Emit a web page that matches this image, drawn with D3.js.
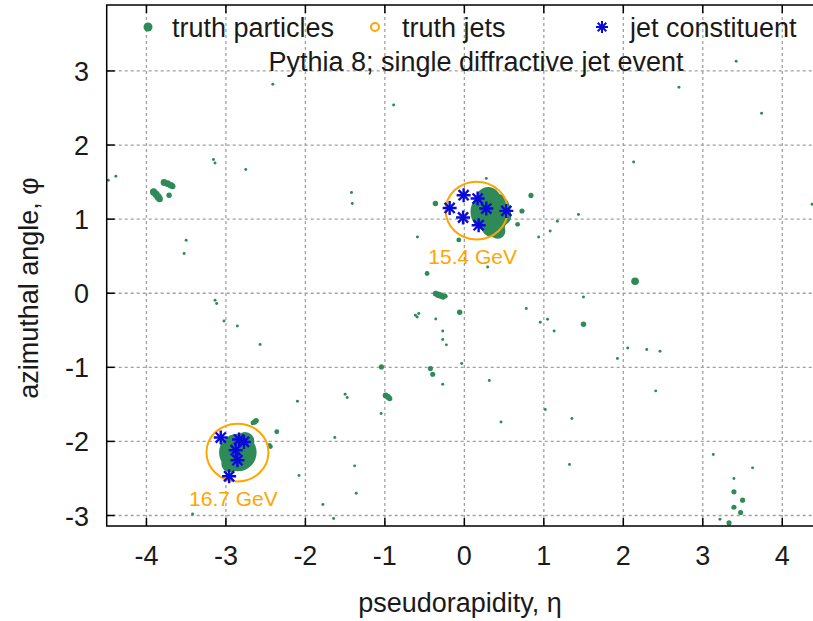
<!DOCTYPE html>
<html>
<head>
<meta charset="utf-8">
<script src="https://cdn.jsdelivr.net/npm/d3@7"></script>
<style>
  body { margin: 0; background: #fff; }
  svg { display: block; font-family: "Liberation Sans", Arial, sans-serif; }
</style>
</head>
<body>
<div id="chart"></div>
<script>
// eta-phi display of one Pythia 8 single diffractive jet event

const etaTicks = [-4, -3, -2, -1, 0, 1, 2, 3, 4];
const phiTicks = [-3, -2, -1, 0, 1, 2, 3];

// truth particles: eta, phi, pT (GeV)
const partEta = [
  0.33, 0.30, 0.36, 0.42, 0.22, 0.46,
  -2.85, -2.76, -2.95, -2.80,
  -3.91, -3.88, -3.853, -3.835, -3.778, -3.735, -3.693, -3.672, -3.715,
  -4.48, -4.385, -3.157, -3.137, -2.75, -3.5, -3.526, -3.137, -3.116, -3.024, -2.856, -2.57,
  -2.64, -2.62, -2.66, -2.36, -2.44, -2.45, -2.08,
  -0.469, 0.293, -0.36, -0.33, -0.30, -0.27, -0.24,
  -0.059, -0.616, -0.594, -0.574, -0.36, -0.272, -0.272, -0.226, -0.034,
  -0.427, -0.398, -0.272, 0.314, -1.043, -0.99, -0.96, -0.94,
  -1.047, -1.5, -1.474, -2.1, -1.63, 0.779, 0.955, 1.047, 1.13, 0.461, 1.018,
  -0.364, 0.838, 0.725, 0.67, -0.07, 0.276, -0.59, 0.935, 1.08, 1.17,
  1.436, 2.148, 1.499, 1.499, 2.056, 2.295, 2.462, 1.926, 2.408, 1.353, 1.323,
  3.132, 3.626, 3.392, 3.392, 3.501, 3.392, 3.476, 3.216, 3.33, 4.376,
  -2.41, -0.89, 2.13, 2.70, 3.74, 3.42, -1.42, -1.41, -1.38, -1.36, -1.78, -3.42, -1.645
];
const partPhi = [
  1.10, 1.27, 0.92, 0.84, 1.02, 1.05,
  -2.15, -2.0, -2.3, -2.28,
  1.367, 1.336, 1.30, 1.273, 1.494, 1.48, 1.457, 1.444, 1.323,
  1.525, 1.579, 1.804, 1.758, 1.669, 0.715, 0.536, -0.094, -0.139, -0.374, -0.441, -0.693,
  -1.737, -1.72, -1.75, -1.87, -2.07, -2.05, -2.46,
  0.266, 0.355, -0.005, -0.02, -0.03, -0.05, -0.04,
  -0.256, -0.297, -0.32, -0.274, -0.347, -0.509, -0.625, -0.697, -0.949,
  -1.016, -1.093, -1.228, -1.178, -0.994, -1.38, -1.40, -1.42,
  -1.624, -1.363, -1.408, -1.458, -1.948, -0.207, -0.391, -0.351, -0.509, -1.737, -1.57,
  1.21, 1.32, 1.11, 0.93, 0.72, 1.55, 0.76, 0.76, 0.84, 0.97,
  1.062, 0.162, -0.05, -0.418, -0.738, -0.76, -0.783, -0.882, -1.318, -1.691, -2.312,
  -2.177, -2.357, -2.501, -2.681, -2.793, -2.888, -2.96, -3.05, -3.10, 1.2,
  2.82, 2.54, 1.77, 2.78, 2.43, 3.13, 1.36, 1.21, -2.33, -2.70, -2.85, -2.98, -3.04
];
const partPt = [
  55, 20, 20, 8, 12, 15,
  48, 12, 10, 8,
  1.8, 1.8, 1.8, 1.5, 1.6, 1.6, 1.5, 1.2, 1.0,
  0.3, 0.3, 0.3, 0.3, 0.3, 0.3, 0.3, 0.3, 0.3, 0.3, 0.3, 0.3,
  1.0, 1.0, 0.8, 0.8, 0.8, 0.6, 0.3,
  0.8, 0.3, 1.2, 1.4, 1.4, 1.0, 0.8,
  1.0, 0.3, 0.3, 0.3, 0.3, 0.3, 0.3, 0.3, 0.3,
  0.9, 0.9, 0.3, 0.3, 0.9, 1.2, 1.2, 1.0,
  0.3, 0.3, 0.3, 0.3, 0.3, 0.3, 0.3, 0.3, 0.3, 0.3, 0.3,
  1.0, 0.9, 0.9, 0.8, 0.8, 0.3, 0.3, 0.3, 0.3, 0.3,
  0.3, 2.0, 0.3, 1.0, 0.3, 0.3, 0.3, 0.3, 0.3, 0.3, 0.3,
  0.3, 0.3, 0.3, 0.9, 0.9, 0.9, 0.9, 0.3, 0.9, 0.3,
  0.3, 0.3, 0.3, 0.3, 0.3, 0.3, 0.3, 0.3, 0.3, 0.3, 0.3, 0.3, 0.3
];

// truth jets (anti-kt, R = 0.4)
const jetEta = [0.155, -2.855];
const jetPhi = [1.116, -2.15];
const jetPt = [15.4, 16.7];
const jetR = 0.39;

// jet constituents
const constEta = [-0.185, -0.009, 0.167, 0.276, -0.016, 0.18, 0.528,
                  -3.065, -2.835, -2.773, -2.877, -2.855, -2.96];
const constPhi = [1.151, 1.323, 1.278, 1.143, 1.022, 0.918, 1.111,
                  -1.948, -1.975, -2.007, -2.119, -2.254, -2.47];

const W = 813, H = 621;
const pLeft = 106.7, pTop = 5, pBottom = 526, pRight = 822;

const svg = d3.select("#chart").append("svg")
    .attr("width", W)
    .attr("height", H);

const x = d3.scaleLinear().domain([-4.5, 4.5]).range([pLeft, pRight]);
const y = d3.scaleLinear().domain([-Math.PI, 3.89]).range([pBottom, pTop]);
const rScale = d3.scaleSqrt().domain([0, 60]).range([0, 21]);

const green = "#2e8b57", orange = "#ffa500", blue = "#0a0ad8", ink = "#1a1a1a";

svg.append("defs").append("clipPath").attr("id", "plot")
  .append("rect").attr("x", pLeft).attr("y", pTop)
  .attr("width", pRight - pLeft).attr("height", pBottom - pTop);

// grid
const grid = svg.append("g")
    .attr("stroke", "#a0a0a0")
    .attr("stroke-width", 1.3)
    .attr("stroke-dasharray", "3,3");
grid.selectAll(".gx").data(etaTicks).join("line")
    .attr("x1", d => x(d)).attr("x2", d => x(d))
    .attr("y1", pTop).attr("y2", pBottom);
grid.selectAll(".gy").data(phiTicks).join("line")
    .attr("x1", pLeft).attr("x2", pRight)
    .attr("y1", d => y(d)).attr("y2", d => y(d));

const plot = svg.append("g").attr("clip-path", "url(#plot)");

// truth particles
const particles = partEta.map((e, i) => ({ eta: e, phi: partPhi[i], pt: partPt[i] }));
plot.append("g").selectAll("circle")
    .data(particles)
    .join("circle")
    .attr("cx", d => x(d.eta))
    .attr("cy", d => y(d.phi))
    .attr("r", d => Math.max(1.3, rScale(d.pt)))
    .attr("fill", green);

// truth jets
const jets = jetEta.map((e, i) => ({ eta: e, phi: jetPhi[i], pt: jetPt[i] }));
plot.append("g").selectAll("ellipse")
    .data(jets)
    .join("ellipse")
    .attr("cx", d => x(d.eta))
    .attr("cy", d => y(d.phi))
    .attr("rx", x(jetR) - x(0))
    .attr("ry", y(0) - y(jetR))
    .attr("fill", "none")
    .attr("stroke", orange)
    .attr("stroke-width", 2);

svg.append("g").selectAll("text")
    .data(jets)
    .join("text")
    .attr("x", d => x(d.eta) - 4)
    .attr("y", d => y(d.phi - jetR) + 25)
    .attr("text-anchor", "middle")
    .attr("fill", orange)
    .style("font-size", "21px")
    .text(d => d.pt.toFixed(1) + " GeV");

// jet constituents (asterisks)
function asterisk(g, s) {
  g.append("line").attr("x1", -s).attr("x2", s).attr("y1", 0).attr("y2", 0);
  g.append("line").attr("x1", 0).attr("x2", 0).attr("y1", -s).attr("y2", s);
  g.append("line").attr("x1", -s * 0.72).attr("x2", s * 0.72).attr("y1", -s * 0.72).attr("y2", s * 0.72);
  g.append("line").attr("x1", -s * 0.72).attr("x2", s * 0.72).attr("y1", s * 0.72).attr("y2", -s * 0.72);
}
const cons = constEta.map((e, i) => ({ eta: e, phi: constPhi[i] }));
plot.append("g")
    .attr("stroke", blue)
    .attr("stroke-width", 2.4)
    .selectAll("g")
    .data(cons)
    .join("g")
    .attr("transform", d => `translate(${x(d.eta)},${y(d.phi)})`)
    .each(function () { asterisk(d3.select(this), 7); });

// frame and inward ticks
const axes = svg.append("g").attr("stroke", "#000").attr("stroke-width", 1.5);
axes.append("path")
    .attr("fill", "none")
    .attr("d", `M${pRight},${pTop}H${pLeft}V${pBottom}H${pRight}`);
axes.selectAll(".tb").data(etaTicks).join("line")
    .attr("x1", d => x(d)).attr("x2", d => x(d))
    .attr("y1", pBottom).attr("y2", pBottom - 8);
axes.selectAll(".tt").data(etaTicks).join("line")
    .attr("x1", d => x(d)).attr("x2", d => x(d))
    .attr("y1", pTop).attr("y2", pTop + 8);
axes.selectAll(".tl").data(phiTicks).join("line")
    .attr("x1", pLeft).attr("x2", pLeft + 8)
    .attr("y1", d => y(d)).attr("y2", d => y(d));

// tick labels
svg.append("g").selectAll("text")
    .data(etaTicks)
    .join("text")
    .attr("x", d => x(d))
    .attr("y", 565)
    .attr("text-anchor", "middle")
    .style("font-size", "27px")
    .attr("fill", ink)
    .text(d => d);
svg.append("g").selectAll("text")
    .data(phiTicks)
    .join("text")
    .attr("x", 89)
    .attr("y", d => y(d) + 10)
    .attr("text-anchor", "end")
    .style("font-size", "27px")
    .attr("fill", ink)
    .text(d => d);

// axis titles
svg.append("text")
    .attr("x", 460).attr("y", 612)
    .attr("text-anchor", "middle")
    .style("font-size", "27px")
    .attr("fill", ink)
    .text("pseudorapidity, η");
svg.append("text")
    .attr("transform", "translate(38,288) rotate(-90)")
    .attr("text-anchor", "middle")
    .style("font-size", "27px")
    .attr("fill", ink)
    .text("azimuthal angle, φ");

// legend
const leg = svg.append("g").style("font-size", "27px").attr("fill", ink);
leg.append("circle").attr("cx", 148).attr("cy", 27).attr("r", 4.5).attr("fill", green);
leg.append("text").attr("x", 172).attr("y", 37).text("truth particles");
leg.append("circle").attr("cx", 375).attr("cy", 27).attr("r", 4)
    .attr("fill", "none").attr("stroke", orange).attr("stroke-width", 2);
leg.append("text").attr("x", 402).attr("y", 37).text("truth jets");
const la = leg.append("g").attr("transform", "translate(602,27)")
    .attr("stroke", blue).attr("stroke-width", 2);
asterisk(la, 6);
leg.append("text").attr("x", 630).attr("y", 37).text("jet constituent");

svg.append("text")
    .attr("x", 476).attr("y", 71)
    .attr("text-anchor", "middle")
    .style("font-size", "27px")
    .attr("fill", ink)
    .text("Pythia 8; single diffractive jet event");
</script>
</body>
</html>
